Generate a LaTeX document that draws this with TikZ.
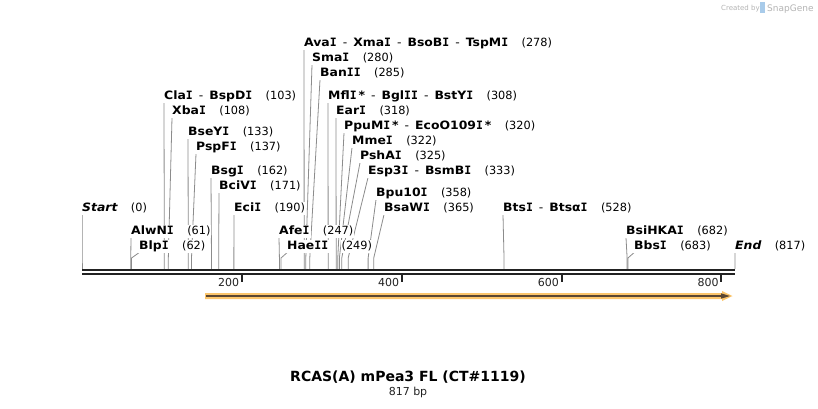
\documentclass[tikz,border=0pt]{standalone}
\usepackage{fontspec}
\setmainfont{DejaVu Sans}
\newfontfamily\lblfont{DejaVu Sans}[FakeStretch=1.08]
\newfontfamily\monofam{DejaVu Sans Mono}
\newcommand\II{{\monofam\bfseries I}}
\usetikzlibrary{calc}
\pgfdeclarelayer{back}
\pgfdeclarelayer{bg}
\pgfsetlayers{back,bg,main}
\definecolor{leadgray}{HTML}{8C8C8C}
\definecolor{barcol}{HTML}{222222}
\definecolor{featorange}{HTML}{FBC56C}
\definecolor{featdark}{HTML}{5A4632}
\definecolor{wmgray}{HTML}{B4B4B4}
\definecolor{wmblue}{HTML}{A8CBEA}
\newcommand\sepx{\hspace{6pt}{\mdseries -}\hspace{6pt}}
% #1 id, #2 text left x, #3 baseline y, #4 bp, #5 name, #6 number
\newcommand\enz[6]{%
  \node[enzlbl] (#1) at ({#2-1},#3) {#5};
  \node[enznum] (#1-n) at ([xshift=11pt]#1.base east) {(#6)};
  \coordinate (#1-top) at ([xshift=1pt]#1.south west);
  \coordinate (#1-bend) at ({82+#4*0.79927},258);
  \coordinate (#1-cut) at ({82+#4*0.79927},269);
  \begin{pgfonlayer}{bg}
    \draw[leader] (#1-top) -- (#1-bend) -- (#1-cut);
  \end{pgfonlayer}%
}
\tikzset{
  enzlbl/.style={anchor=base west, inner xsep=1pt, inner ysep=1pt, fill=white,
    font=\lblfont\fontsize{11.5}{13}\selectfont\bfseries, text height=8pt, text depth=2.5pt},
  enznum/.style={anchor=base west, inner xsep=1pt, inner ysep=1pt, fill=white,
    font=\fontsize{11.3}{13}\selectfont, text height=8pt, text depth=2.5pt},
  leader/.style={draw=leadgray, line width=0.8pt},
  strand/.style={draw=barcol, line width=2.2pt},
  tickmark/.style={draw=barcol, line width=2pt},
  ticklbl/.style={anchor=base east, inner sep=0pt, font=\fontsize{11}{13}\selectfont, text=barcol},
}
\begin{document}
\begin{tikzpicture}[x=1pt,y=-1pt]
\useasboundingbox (0,0) rectangle (818,408);
\begin{pgfonlayer}{back}
\fill[white] (0,0) rectangle (818,408);
\end{pgfonlayer}

% watermark
\node[anchor=base west, inner sep=0pt, text=wmgray, font=\fontsize{7}{8}\selectfont] (wm1) at (721,10) {Created by};
\fill[wmblue] (760,2) rectangle (765,13);
\node[anchor=base west, inner sep=0pt, text=wmgray, font=\fontsize{9}{10}\selectfont] (wm2) at (767,11) {SnapGene};

% sequence bar
\coordinate (b0) at (82,270);
\coordinate (b1) at (735,270);
\coordinate (c0) at (82,274);
\coordinate (c1) at (735,274);
\draw[strand] (b0) -- (b1);
\draw[strand] (c0) -- (c1);

% ticks
\foreach \v in {200,400,600,800}{
  \coordinate (t\v a) at ({82+\v*0.79927},274);
  \coordinate (t\v b) at ({82+\v*0.79927},282);
  \draw[tickmark] (t\v a) -- (t\v b);
  \node[ticklbl] (tl\v) at ({82+\v*0.79927-2.5},286) {\v};
}

% feature arrow
\fill[featorange] (205,293) -- (722,293) -- (722,291) -- (732.5,296) -- (722,301) -- (722,299) -- (205,299) -- cycle;
\coordinate (fa) at (206,296);
\coordinate (fb) at (723,296);
\draw[featdark, line width=1.8pt] (fa) -- (fb);
\fill[featdark] (721,293.3) -- (730,296) -- (721,298.7) -- cycle;

% enzymes
\enz{st}{82}{211}{0}{\itshape Start}{0}
\enz{alw}{131}{234}{61}{AlwN\II}{61}
\enz{blp}{139}{249}{62}{Blp\II}{62}
\enz{cla}{164}{99}{103}{Cla\II\sepx BspD\II}{103}
\enz{xba}{172}{114}{108}{Xba\II}{108}
\enz{bse}{188}{135}{133}{BseY\II}{133}
\enz{psp}{196}{150}{137}{PspF\II}{137}
\enz{bsg}{211}{174}{162}{Bsg\II}{162}
\enz{bci}{219}{189}{171}{BciV\II}{171}
\enz{eci}{234}{211}{190}{Eci\II}{190}
\enz{afe}{279}{234}{247}{Afe\II}{247}
\enz{hae}{287}{249}{249}{Hae\II\II}{249}
\enz{ava}{304}{46}{278}{Ava\II\sepx Xma\II\sepx BsoB\II\sepx TspM\II}{278}
\enz{sma}{312}{61}{280}{Sma\II}{280}
\enz{ban}{320}{76}{285}{Ban\II\II}{285}
\enz{mfl}{328}{99}{308}{Mfl\II\,*\sepx Bgl\II\II\sepx BstY\II}{308}
\enz{ear}{336}{114}{318}{Ear\II}{318}
\enz{ppu}{344}{129}{320}{PpuM\II\,*\sepx EcoO109\II\,*}{320}
\enz{mme}{352}{144}{322}{Mme\II}{322}
\enz{psh}{360}{159}{325}{PshA\II}{325}
\enz{esp}{368}{174}{333}{Esp3\II\sepx BsmB\II}{333}
\enz{bpu}{376}{196}{358}{Bpu10\II}{358}
\enz{bsa}{384}{211}{365}{BsaW\II}{365}
\enz{bts}{503}{211}{528}{Bts\II\sepx Btsα\II}{528}
\enz{bsi}{626}{234}{682}{BsiHKA\II}{682}
\enz{bbs}{634}{249}{683}{Bbs\II}{683}
\enz{en}{735}{249}{817}{\itshape End}{817}

% title
\node[inner sep=0pt, font=\fontsize{14}{16}\selectfont\bfseries, text=black] (title) at (408,377) {RCAS(A) mPea3 FL (CT\#1119)};
\node[inner sep=0pt, font=\fontsize{11}{13}\selectfont, text=barcol] (sub) at (408,392) {817 bp};
\end{tikzpicture}
\end{document}
